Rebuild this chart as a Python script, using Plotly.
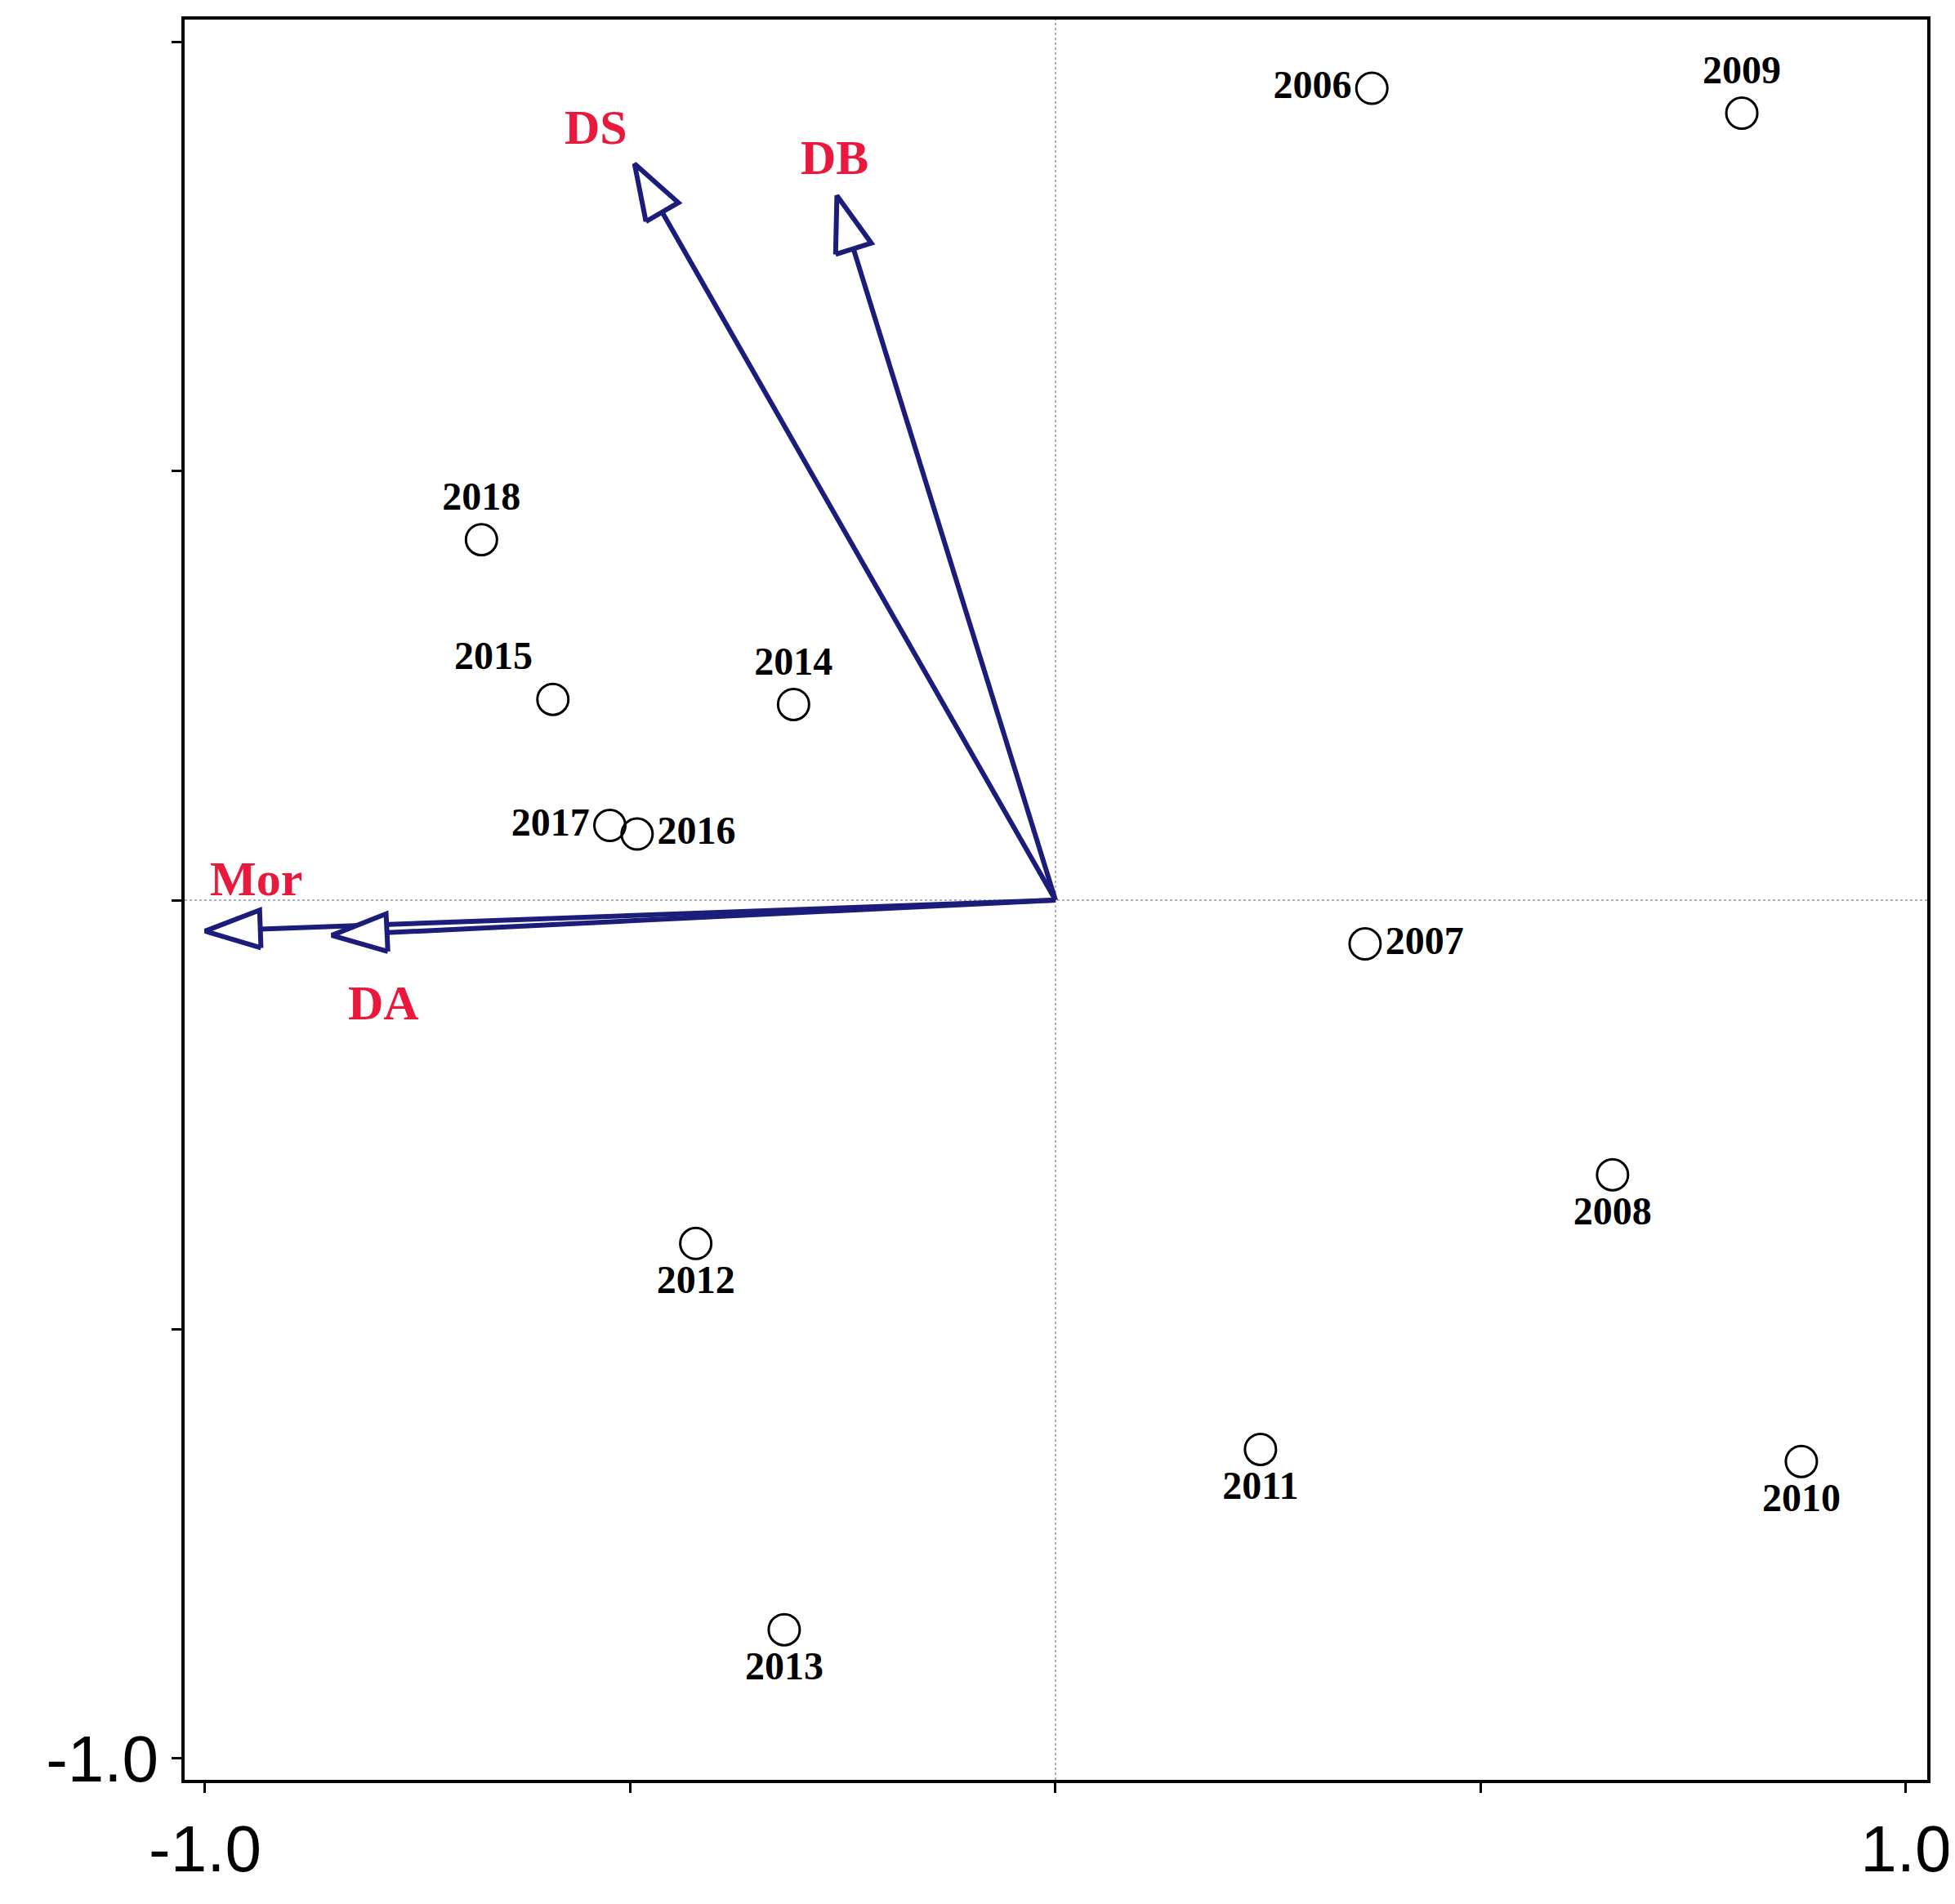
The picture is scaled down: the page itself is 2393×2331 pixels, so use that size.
import numpy as np
import plotly.graph_objects as go

# sample scores
years = ["2006", "2009", "2018", "2015", "2014", "2017", "2016",
         "2007", "2008", "2012", "2011", "2010", "2013"]
site_x = [0.372, 0.807, -0.675, -0.591, -0.308, -0.524, -0.492,
          0.364, 0.655, -0.423, 0.241, 0.877, -0.319]
site_y = [0.946, 0.917, 0.420, 0.234, 0.228, 0.087, 0.077,
          -0.051, -0.320, -0.400, -0.640, -0.654, -0.850]
label_pos = ["middle left", "top center", "top center", "top left", "top center",
             "middle left", "middle right", "middle right", "bottom center",
             "bottom center", "bottom center", "bottom center", "bottom center"]

# environmental arrows
env_names = ["DS", "DB", "Mor", "DA"]
env_x = [-0.495, -0.257, -1.0, -0.851]
env_y = [0.858, 0.821, -0.036, -0.041]
env_label_x = [-0.54, -0.26, -0.94, -0.79]
env_label_y = [0.90, 0.865, 0.025, -0.12]

navy = "#1c1c7a"
fig = go.Figure()

head_len, head_half = 0.065, 0.022
for ex, ey in zip(env_x, env_y):
    tip = np.array([ex, ey])
    d = tip / np.linalg.norm(tip)
    n = np.array([-d[1], d[0]])
    base = tip - d * head_len
    fig.add_trace(go.Scatter(x=[0, base[0]], y=[0, base[1]], mode="lines",
                             line=dict(color=navy, width=6), showlegend=False))
    tri = [base + n * head_half, tip, base - n * head_half, base + n * head_half]
    fig.add_trace(go.Scatter(x=[p[0] for p in tri], y=[p[1] for p in tri], mode="lines",
                             fill="toself", fillcolor="white",
                             line=dict(color=navy, width=6), showlegend=False))

for name, lx, ly in zip(env_names, env_label_x, env_label_y):
    fig.add_annotation(x=lx, y=ly, text="<b>" + name + "</b>", showarrow=False,
                       font=dict(family="Liberation Serif", size=60, color="#e8193c"))

fig.add_trace(go.Scatter(
    x=site_x, y=site_y, mode="markers+text",
    text=["<b>" + y + "</b>" for y in years], textposition=label_pos,
    marker=dict(symbol="circle-open", size=38, color="black", line=dict(width=3)),
    textfont=dict(family="Liberation Serif", size=48, color="black"),
    showlegend=False))

for s in [dict(x0=0, x1=0, y0=-1.025, y1=1.026), dict(x0=-1.024, x1=1.025, y0=0, y1=0)]:
    fig.add_shape(type="line", xref="x", yref="y", layer="below",
                  line=dict(color="#aab0c0", width=2, dash="dot"), **s)

tick_vals = [-1.0, -0.5, 0, 0.5, 1.0]
tick_text = ["-1.0", "", "", "", "1.0"]
axis_style = dict(tickvals=tick_vals, ticktext=tick_text, ticks="outside", ticklen=12,
                  tickwidth=3, tickcolor="black", showgrid=False, zeroline=False,
                  showline=True, linecolor="black", linewidth=4, mirror=True,
                  tickfont=dict(family="Liberation Sans", size=80, color="black"))
fig.update_xaxes(range=[-1.024, 1.025], **axis_style)
fig.update_yaxes(range=[-1.025, 1.026], **axis_style)

fig.update_layout(width=2393, height=2331, plot_bgcolor="white", paper_bgcolor="white",
                  margin=dict(l=218, r=40, t=14, b=160))
fig.write_html("out.html")
